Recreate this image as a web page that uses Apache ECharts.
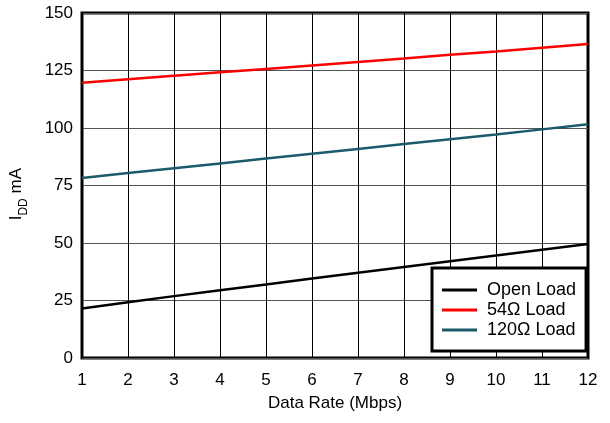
<!DOCTYPE html>
<html><head><meta charset="utf-8">
<script src="https://cdn.jsdelivr.net/npm/echarts@6/dist/echarts.min.js"></script>
<style>html,body{margin:0;padding:0;background:#fff}#c{width:610px;height:423px}</style>
</head><body><div id="c"></div>
<script>
const dataRate = [1,2,3,4,5,6,7,8,9,10,11,12];
const openLoad = [21.5,24.2,26.9,29.5,32.0,34.6,37.1,39.6,42.1,44.6,47.1,49.6];
const load54 = [119.7,121.2,122.7,124.2,125.7,127.2,128.7,130.2,131.8,133.3,134.9,136.5];
const load120 = [78.3,80.4,82.5,84.6,86.7,88.8,90.9,93.0,95.1,97.2,99.4,101.6];
const seriesNames = ['Open Load','54Ω Load','120Ω Load'];
const colors = ['#000000','#ff0000','#1a5a6a'];
const font = 'Liberation Sans, Arial, sans-serif';
const chart = echarts.init(document.getElementById('c'));
const mk = (arr) => dataRate.map((x,i)=>[x,arr[i]]);
chart.setOption({
  animation:false,
  grid:{left:82,right:22,top:13,bottom:65,show:true,borderColor:'#000',borderWidth:3,backgroundColor:'transparent'},
  xAxis:{type:'value',min:1,max:12,interval:1,
    name:'Data Rate (Mbps)',nameLocation:'middle',nameGap:37,
    nameTextStyle:{color:'#000',fontSize:17,fontFamily:font},
    axisLine:{show:false},axisTick:{show:false},
    axisLabel:{color:'#000',fontSize:17,fontFamily:font,margin:14},
    splitLine:{show:true,lineStyle:{color:'#000',width:1}}},
  yAxis:{type:'value',min:0,max:150,interval:25,
    axisLine:{show:false},axisTick:{show:false},
    axisLabel:{color:'#000',fontSize:17,fontFamily:font,margin:9},
    splitLine:{show:true,lineStyle:{color:'#555',width:1}}},
  graphic:[{type:'text',left:8,top:168,rotation:Math.PI/2,
    style:{rich:{a:{fontSize:17,fontFamily:font,fill:'#000'},b:{fontSize:12,fontFamily:font,fill:'#000',verticalAlign:'bottom',padding:[0,0,-5,0]}},
      text:'{a|I}{b|DD}{a| mA}'}}],
  legend:{orient:'vertical',left:432,top:268,width:155,
    data:seriesNames,icon:'rect',
    backgroundColor:'#fff',borderColor:'#000',borderWidth:3,borderRadius:0,
    padding:[12,10,11,10],itemGap:0,itemWidth:35,itemHeight:3,
    textStyle:{color:'#000',fontSize:18,fontFamily:font,lineHeight:20,padding:[0,0,0,5]}},
  series:[
    {name:seriesNames[0],type:'line',data:mk(openLoad),showSymbol:false,symbol:'none',lineStyle:{color:colors[0],width:2.5},itemStyle:{color:colors[0]}},
    {name:seriesNames[1],type:'line',data:mk(load54),showSymbol:false,symbol:'none',lineStyle:{color:colors[1],width:2.5},itemStyle:{color:colors[1]}},
    {name:seriesNames[2],type:'line',data:mk(load120),showSymbol:false,symbol:'none',lineStyle:{color:colors[2],width:2.5},itemStyle:{color:colors[2]}}
  ]
});
</script></body></html>
